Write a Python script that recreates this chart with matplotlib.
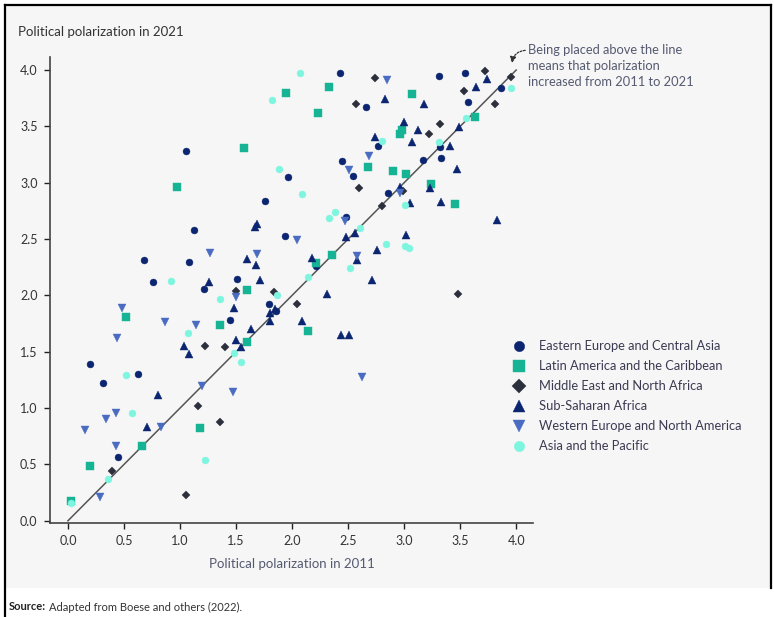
import matplotlib
matplotlib.use("Agg")
import matplotlib.pyplot as plt
from matplotlib.patches import Rectangle
from matplotlib.lines import Line2D

plt.rcParams["font.family"] = ["Lato", "DejaVu Sans"]

# (x = polarization 2011, y = polarization 2021)
eeca_x = [1.05, 2.43, 2.66, 2.77, 2.45, 2.54, 1.96, 1.76, 2.48, 3.31, 3.54, 3.86, 3.57, 3.32, 3.17, 3.33,
          2.86, 1.125, 0.68, 1.08, 0.76, 1.21, 0.20, 1.94, 2.21, 1.51, 1.79, 1.86, 1.45, 0.625, 0.31, 0.45]
eeca_y = [3.28, 3.97, 3.67, 3.33, 3.19, 3.06, 3.05, 2.84, 2.70, 3.95, 3.97, 3.84, 3.72, 3.32, 3.20, 3.22,
          2.91, 2.58, 2.31, 2.30, 2.12, 2.06, 1.39, 2.53, 2.26, 2.15, 1.92, 1.86, 1.78, 1.30, 1.22, 0.57]

lac_x = [0.97, 2.33, 1.95, 2.23, 1.57, 2.68, 3.07, 2.98, 2.96, 3.63, 2.90, 3.02, 3.24, 3.45, 0.52, 1.36,
         2.21, 2.36, 1.60, 2.14, 1.60, 1.18, 0.66, 0.20, 0.03]
lac_y = [2.96, 3.85, 3.80, 3.62, 3.31, 3.14, 3.79, 3.47, 3.43, 3.58, 3.10, 3.08, 2.99, 2.81, 1.81, 1.74,
         2.29, 2.36, 2.05, 1.68, 1.59, 0.82, 0.66, 0.49, 0.18]

mena_x = [2.74, 2.57, 2.60, 3.72, 3.95, 3.53, 3.81, 3.32, 3.22, 2.99, 2.80, 1.22, 1.50, 1.84, 2.04, 1.40,
          3.48, 1.16, 1.36, 0.39, 1.05]
mena_y = [3.93, 3.70, 2.95, 3.99, 3.94, 3.81, 3.70, 3.52, 3.43, 2.93, 2.79, 1.55, 2.04, 2.03, 1.92, 1.54,
          2.01, 1.02, 0.88, 0.44, 0.23]

ssa_x = [2.74, 3.74, 3.64, 2.83, 3.18, 3.00, 3.12, 3.07, 3.49, 3.41, 3.47, 2.96, 3.23, 3.05, 3.33, 3.83,
         1.26, 1.04, 1.08, 1.69, 1.67, 2.48, 2.56, 1.60, 1.68, 2.18, 2.58, 2.76, 2.71, 1.71, 1.48, 1.80,
         1.85, 1.80, 2.31, 2.09, 1.63, 1.50, 1.54, 2.44, 2.51, 3.02, 0.80, 0.71]
ssa_y = [3.41, 3.92, 3.85, 3.74, 3.70, 3.54, 3.47, 3.36, 3.49, 3.33, 3.12, 2.96, 2.95, 2.82, 2.83, 2.67,
         2.12, 1.55, 1.48, 2.63, 2.61, 2.52, 2.55, 2.32, 2.27, 2.33, 2.31, 2.40, 2.14, 2.14, 1.89, 1.84,
         1.88, 1.77, 2.01, 1.77, 1.70, 1.60, 1.54, 1.65, 1.65, 2.54, 1.12, 0.83]

wena_x = [2.85, 2.69, 2.51, 2.47, 2.96, 1.27, 0.48, 0.87, 1.14, 0.44, 2.04, 1.69, 2.58, 1.50, 1.20, 0.43,
          0.34, 0.15, 0.83, 0.43, 0.29, 1.47, 2.62]
wena_y = [3.91, 3.24, 3.11, 2.66, 2.91, 2.38, 1.89, 1.76, 1.74, 1.62, 2.49, 2.37, 2.35, 1.99, 1.20, 0.96,
          0.90, 0.81, 0.83, 0.66, 0.21, 1.14, 1.28]

asia_x = [2.07, 1.82, 1.88, 2.09, 2.38, 2.33, 3.95, 3.55, 2.80, 3.31, 3.01, 0.92, 1.36, 1.07, 2.61, 2.52,
          2.14, 1.87, 1.48, 1.54, 2.84, 3.01, 3.04, 0.52, 0.57, 1.22, 0.36, 0.03]
asia_y = [3.97, 3.73, 3.12, 2.90, 2.74, 2.69, 3.84, 3.57, 3.37, 3.36, 2.80, 2.13, 1.97, 1.67, 2.60, 2.24,
          2.16, 2.00, 1.49, 1.41, 2.46, 2.44, 2.42, 1.29, 0.96, 0.54, 0.37, 0.16]

ticks = [0.0, 0.5, 1.0, 1.5, 2.0, 2.5, 3.0, 3.5, 4.0]

groups = [
    ("Eastern Europe and Central Asia", eeca_x, eeca_y, "o", "#0b2570", 5.0),
    ("Latin America and the Caribbean", lac_x, lac_y, "s", "#16b495", 5.4),
    ("Middle East and North Africa", mena_x, mena_y, "D", "#2c2f3c", 4.5),
    ("Sub-Saharan Africa", ssa_x, ssa_y, "^", "#0b2570", 6.0),
    ("Western Europe and North America", wena_x, wena_y, "v", "#4a6cc0", 6.0),
    ("Asia and the Pacific", asia_x, asia_y, "o", "#7ef5df", 5.0),
]

W, H = 774, 617
fig = plt.figure(figsize=(W / 100, H / 100), dpi=100, facecolor="white")

# grey panel and the black frame lines (drawn underneath the axes)
fig.patches.append(Rectangle((6 / W, 1 - 588 / H), 764 / W, 582 / H, transform=fig.transFigure,
                             facecolor="#f6f6f6", edgecolor="none", zorder=-5))
for xs, ys in [([4.5, 4.5], [0, 612]), ([4.5, 771], [612, 612]), ([771, 771], [612, 29])]:
    fig.lines.append(Line2D([x / W for x in xs], [y / H for y in ys], transform=fig.transFigure,
                            color="black", lw=1.6, zorder=-4))

ax = fig.add_axes([50 / W, 1 - 522.5 / H, 483 / W, 466 / H])
ax.set_facecolor("none")

ax.plot([0, 4], [0, 4], color="#555555", lw=1.1, zorder=1)

handles = []
for name, xs, ys, mk, col, ms in groups:
    h, = ax.plot(xs, ys, ls="none", marker=mk, color=col, ms=ms, mec=col, mew=0.3,
                 label=name, zorder=3)
    handles.append(h)

ax.set_xlim(-0.16, 4.15)
ax.set_ylim(-0.015, 4.12)
ax.set_xticks(ticks)
ax.set_yticks(ticks)
ax.set_xticklabels([f"{t:.1f}" for t in ticks])
ax.set_yticklabels([f"{t:.1f}" for t in ticks])
for s in ["top", "right"]:
    ax.spines[s].set_visible(False)
for s in ["left", "bottom"]:
    ax.spines[s].set_color("#444444")
    ax.spines[s].set_linewidth(1.2)
ax.tick_params(length=4, width=1, color="#222222", labelsize=9, labelcolor="#333333", pad=5)

ax.set_xlabel("Political polarization in 2011", fontsize=9.5, color="#555a70", labelpad=8)
fig.text(18 / W, 1 - 32 / H, "Political polarization in 2021", fontsize=9.5, color="#333333",
         va="center", ha="left")

leg = fig.legend(handles=handles, loc="upper left", bbox_to_anchor=(507 / W, 1 - 335 / H),
                 frameon=False, fontsize=9.3, handletextpad=1.1, labelspacing=0.62,
                 handlelength=1.0, markerscale=1.5, borderaxespad=0)
for t in leg.get_texts():
    t.set_color("#3c3a52")

ax.annotate("Being placed above the line\nmeans that polarization\nincreased from 2011 to 2021",
            xy=(3.96, 4.05), xycoords="data", xytext=(528 / W, 1 - 66 / H), textcoords="figure fraction",
            fontsize=9.3, color="#555a70", va="center", ha="left", linespacing=1.45,
            arrowprops=dict(arrowstyle="-|>", linestyle=(0, (1.5, 1.2)), color="#333333", lw=0.9,
                            shrinkA=0, shrinkB=1, mutation_scale=9,
                            connectionstyle="arc3,rad=0.45",
                            relpos=(0.0, 0.85)))

fig.text(9 / W, 1 - 607 / H, "Source:", fontsize=8, fontweight="bold", color="#222222",
         va="center", ha="left")
fig.text(49 / W, 1 - 607 / H, "Adapted from Boese and others (2022).", fontsize=8, color="#333333",
         va="center", ha="left")

fig.savefig("out.png", dpi=100, facecolor=fig.get_facecolor())
